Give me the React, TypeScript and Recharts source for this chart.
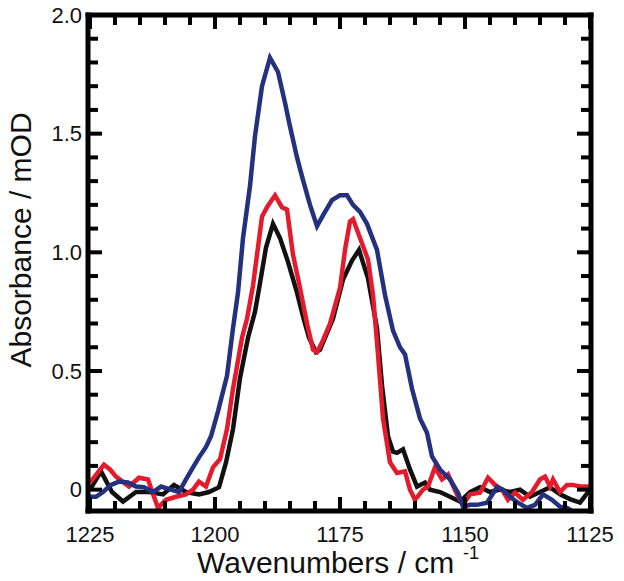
import { LineChart, Line, XAxis, YAxis } from "recharts";

// wavenumber (cm-1) / absorbance (mOD)
const blackWn = [1225, 1222.8, 1220.6, 1218.4, 1215.8, 1213.2, 1210.4, 1208.2, 1205.8, 1203.2, 1201.2, 1199.2, 1197.8, 1196.4, 1195, 1193.4, 1192, 1191, 1189.8, 1188.4, 1187, 1185.4, 1183.6, 1182.4, 1181.2, 1179.8, 1179, 1176.4, 1174.4, 1172.6, 1171.2, 1169.4, 1167.6, 1166.6, 1165.4, 1164.4, 1163.6, 1162.4, 1161, 1159.6, 1158, 1157, 1155, 1153, 1151, 1149, 1147, 1145, 1143, 1141, 1139, 1137, 1135, 1133, 1131, 1129, 1127, 1125];
const blackAbs = [0, 0.077, -0.01, -0.05, -0.01, -0.01, -0.02, 0.02, -0.01, -0.02, -0.01, 0.01, 0.115, 0.255, 0.47, 0.64, 0.75, 0.87, 1.02, 1.12, 1.06, 0.96, 0.83, 0.73, 0.64, 0.58, 0.59, 0.72, 0.885, 0.965, 1.01, 0.89, 0.68, 0.44, 0.225, 0.16, 0.155, 0.17, 0.085, 0.013, 0.03, 0, -0.01, -0.03, -0.05, -0.01, 0.01, -0.01, 0, -0.01, 0, -0.03, -0.01, 0.01, -0.02, -0.04, -0.055, 0];

const redWn = [1225, 1222.2, 1221, 1219.8, 1217.2, 1215.2, 1213.4, 1212.2, 1211.4, 1209.8, 1207.8, 1205.8, 1204.4, 1203.2, 1201.8, 1200.4, 1199, 1197.6, 1196.4, 1194.6, 1193.6, 1192.4, 1190.6, 1189.6, 1188, 1186.6, 1185.6, 1184.4, 1183, 1181.6, 1180.4, 1179.6, 1178.6, 1177, 1175, 1174, 1173, 1172.4, 1171, 1169.4, 1168.4, 1167.4, 1166.4, 1165, 1163.6, 1162, 1161, 1160, 1158.4, 1157.4, 1156, 1154.6, 1153.4, 1151.6, 1150.4, 1149, 1147, 1145.4, 1144, 1142.6, 1141.4, 1140, 1138.4, 1136.6, 1135, 1134, 1133, 1132.4, 1131, 1129.6, 1128.4, 1127, 1125];
const redAbs = [0.03, 0.105, 0.085, 0.055, 0.013, 0.05, 0.043, -0.03, -0.077, -0.043, -0.03, -0.02, 0, 0.034, 0.013, 0.094, 0.128, 0.255, 0.425, 0.64, 0.72, 0.86, 1.15, 1.19, 1.24, 1.19, 1.18, 0.99, 0.85, 0.7, 0.59, 0.58, 0.62, 0.7, 0.85, 1.01, 1.13, 1.14, 1.06, 0.97, 0.82, 0.57, 0.3, 0.115, 0.07, 0.077, 0, -0.043, 0, 0.013, 0.094, 0.043, 0.064, -0.02, -0.064, -0.02, -0.013, 0.05, 0.02, 0, -0.043, -0.013, -0.043, -0.01, 0.043, 0.055, 0.013, 0.043, -0.01, 0.02, 0.02, 0.013, 0.013];

// blue runs out of the frame near 1128 cm-1; only the visible part is kept
const blueWn = [1225, 1223.8, 1222.4, 1220.8, 1219.2, 1217.4, 1215.8, 1214.2, 1212.4, 1210.8, 1208.8, 1207.2, 1205.8, 1204.4, 1203.2, 1201.8, 1200.8, 1199.4, 1197.6, 1196.4, 1195.4, 1194.4, 1193, 1192, 1190.6, 1189, 1187.4, 1186, 1185, 1183.6, 1182.6, 1181, 1179.6, 1178, 1176.6, 1175, 1173.6, 1172.4, 1171, 1169.6, 1167.6, 1166, 1164.4, 1163, 1162, 1160.6, 1159, 1157.6, 1156.6, 1155, 1153, 1151.4, 1150.4, 1149, 1147.6, 1145.6, 1143.6, 1142.4, 1141, 1139.4, 1137.6, 1136, 1134.4, 1132.6, 1131, 1129.6, 1128.6];
const blueAbs = [-0.03, -0.03, -0.01, 0.02, 0.034, 0.03, 0.013, 0.01, -0.01, 0.013, 0, -0.01, 0.043, 0.094, 0.136, 0.18, 0.225, 0.33, 0.48, 0.68, 0.83, 1.06, 1.28, 1.49, 1.7, 1.82, 1.76, 1.63, 1.53, 1.4, 1.32, 1.2, 1.11, 1.17, 1.22, 1.24, 1.24, 1.2, 1.17, 1.12, 1.01, 0.82, 0.67, 0.6, 0.57, 0.425, 0.3, 0.24, 0.14, 0.085, 0.043, -0.013, -0.072, -0.064, -0.064, -0.055, 0.01, 0, -0.03, -0.055, -0.077, -0.064, -0.02, -0.043, -0.072, -0.077, -0.09];

const xTicks = [1125, 1130, 1135, 1140, 1145, 1150, 1155, 1160, 1165, 1170, 1175, 1180, 1185, 1190, 1195, 1200, 1205, 1210, 1215, 1220, 1225];
const yTicks = [0, 0.1, 0.2, 0.3, 0.4, 0.5, 0.6, 0.7, 0.8, 0.9, 1.0, 1.1, 1.2, 1.3, 1.4, 1.5, 1.6, 1.7, 1.8, 1.9, 2.0];

const X_DOMAIN: [number, number] = [1124.8, 1225.4];
const Y_DOMAIN: [number, number] = [-0.09, 2.0];

const toRows = (wn: number[], abs: number[]) => wn.map((w, i) => ({ w, a: abs[i] }));
const black = toRows(blackWn, blackAbs);
const red = toRows(redWn, redAbs);
const blue = toRows(blueWn, blueAbs);

const FONT = "'Liberation Sans', Arial, Helvetica, sans-serif";
const W = 624;
const H = 581;
const MARGIN = { top: 15, right: 33, bottom: 10, left: 0 };
const Y_AXIS_W = 88;
const X_AXIS_H = 60;
// frame edges
const LEFT = MARGIN.left + Y_AXIS_W;
const RIGHT = W - MARGIN.right;
const TOP = MARGIN.top;
const BOTTOM = H - MARGIN.bottom - X_AXIS_H;
// recharts puts the tick anchor 8px (tickSize 6 + tickMargin 2) outside the axis line
const OFF = 8;

const isMajorX = (v: number) => v % 25 === 0;
const isMajorY = (v: number) => Math.abs(v * 2 - Math.round(v * 2)) < 1e-6;

// bottom ticks + mirrored top ticks (inward); first tick also draws the horizontal frame edges
function XTick(props: any) {
  const { x, y, payload, index } = props;
  const v = payload.value;
  const major = isMajorX(v);
  const len = major ? 14 : 10;
  const base = y - OFF;
  const top = base - (BOTTOM - TOP);
  return (
    <g>
      {index === 0 && (
        <g>
          <line x1={LEFT - 2.5} x2={RIGHT + 2.5} y1={base} y2={base} stroke="#000" strokeWidth={5} />
          <line x1={LEFT - 2.5} x2={RIGHT + 2.5} y1={top} y2={top} stroke="#000" strokeWidth={5} />
        </g>
      )}
      <line x1={x} x2={x} y1={base} y2={base - len} stroke="#000" strokeWidth={4} />
      <line x1={x} x2={x} y1={top} y2={top + len} stroke="#000" strokeWidth={4} />
      {major && (
        <text x={x} y={base + 31} textAnchor="middle" fontSize={22} fontFamily={FONT} fill="#111">
          {v}
        </text>
      )}
    </g>
  );
}

// left ticks + mirrored right ticks (inward); first tick also draws the vertical frame edges
function YTick(props: any) {
  const { x, y, payload, index } = props;
  const v = payload.value;
  const major = isMajorY(v);
  const len = major ? 14 : 10;
  const base = x + OFF;
  const right = base + (RIGHT - LEFT);
  return (
    <g>
      {index === 0 && (
        <g>
          <line x1={base} x2={base} y1={TOP - 2.5} y2={BOTTOM + 2.5} stroke="#000" strokeWidth={5} />
          <line x1={right} x2={right} y1={TOP - 2.5} y2={BOTTOM + 2.5} stroke="#000" strokeWidth={5} />
        </g>
      )}
      <line x1={base} x2={base + len} y1={y} y2={y} stroke="#000" strokeWidth={4} />
      <line x1={right} x2={right - len} y1={y} y2={y} stroke="#000" strokeWidth={4} />
      {major && (
        <text x={base - 6} y={y} dy="0.35em" textAnchor="end" fontSize={22} fontFamily={FONT} fill="#111">
          {v === 0 ? "0" : v.toFixed(1)}
        </text>
      )}
    </g>
  );
}

export default function App() {
  return (
    <div style={{ position: "absolute", left: 0, top: 0, width: W, height: H }}>
      <LineChart width={W} height={H} margin={MARGIN}>
        <XAxis
          dataKey="w"
          type="number"
          domain={X_DOMAIN}
          reversed
          ticks={xTicks}
          interval={0}
          height={X_AXIS_H}
          tickLine={false}
          axisLine={false}
          tick={<XTick />}
        />
        <YAxis
          type="number"
          domain={Y_DOMAIN}
          ticks={yTicks}
          interval={0}
          width={Y_AXIS_W}
          tickLine={false}
          axisLine={false}
          tick={<YTick />}
        />
        <Line data={black} dataKey="a" type="linear" stroke="#111111" strokeWidth={4.5} dot={false} isAnimationActive={false} />
        <Line data={red} dataKey="a" type="linear" stroke="#e31b2c" strokeWidth={4.5} dot={false} isAnimationActive={false} />
        <Line data={blue} dataKey="a" type="linear" stroke="#24317e" strokeWidth={4.5} dot={false} isAnimationActive={false} />
      </LineChart>
      <svg width={W} height={H} style={{ position: "absolute", left: 0, top: 0, pointerEvents: "none" }}>
        <text x={197} y={573} fontSize={30} fontFamily={FONT} fill="#111">
          Wavenumbers / cm
        </text>
        <text x={463} y={559} fontSize={18} fontFamily={FONT} fill="#111">
          -1
        </text>
        <text x={31} y={240} transform="rotate(-90 31 240)" textAnchor="middle" fontSize={30} fontFamily={FONT} fill="#111">
          Absorbance / mOD
        </text>
      </svg>
    </div>
  );
}
